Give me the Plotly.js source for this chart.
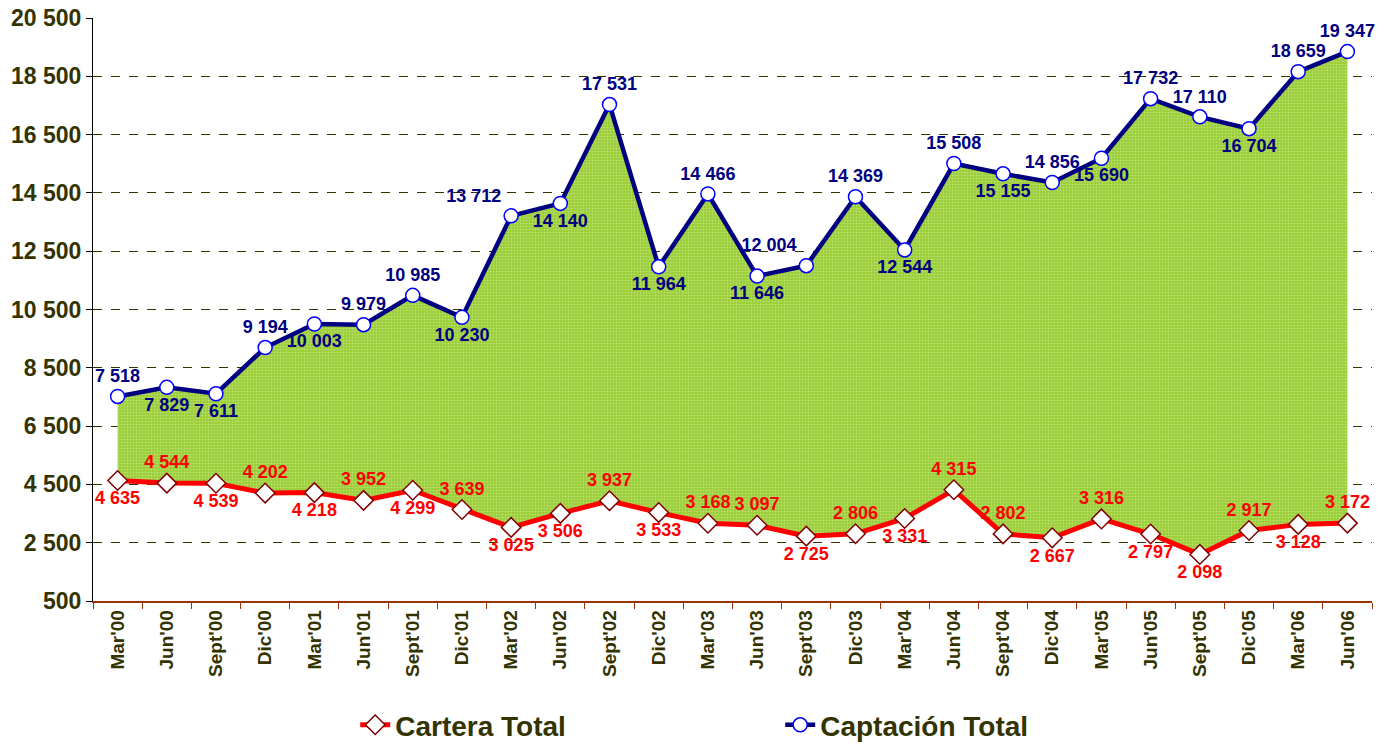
<!DOCTYPE html>
<html>
<head>
<meta charset="utf-8">
<script src="https://cdn.plot.ly/plotly-3.0.1.min.js"></script>
<style>html,body{margin:0;padding:0;background:#fff;}#chart{width:1378px;height:745px;}</style>
</head>
<body>
<div id="chart"></div>
<script>
const periods = ["Mar'00","Jun'00","Sept'00","Dic'00","Mar'01","Jun'01","Sept'01","Dic'01","Mar'02","Jun'02","Sept'02","Dic'02","Mar'03","Jun'03","Sept'03","Dic'03","Mar'04","Jun'04","Sept'04","Dic'04","Mar'05","Jun'05","Sept'05","Dic'05","Mar'06","Jun'06"];
const captacion = [7518,7829,7611,9194,10003,9979,10985,10230,13712,14140,17531,11964,14466,11646,12004,14369,12544,15508,15155,14856,15690,17732,17110,16704,18659,19347];
const cartera = [4635,4544,4539,4202,4218,3952,4299,3639,3025,3506,3937,3533,3168,3097,2725,2806,3331,4315,2802,2667,3316,2797,2098,2917,3128,3172];

const T = 'top center', B = 'bottom center';
const captacionPos = [T,B,B,T,B,T,T,B,'top left',B,T,B,T,B,'top left',T,B,T,B,T,B,T,T,B,T,T];
const carteraPos = [B,T,B,T,B,T,B,T,B,B,T,B,T,T,B,T,B,T,T,B,T,B,B,T,B,T];

const font = 'Arial, "Liberation Sans", sans-serif';
const olive = '#333300';

const traces = [
  {
    x: periods, y: cartera, name: 'Cartera Total', type: 'scatter', mode: 'lines',
    line: {color: 'rgba(0,0,0,0)', width: 0},
    showlegend: false, hoverinfo: 'skip'
  },
  {
    x: periods, y: captacion, name: 'area', type: 'scatter', mode: 'lines',
    fill: 'tonexty', fillcolor: '#99cc33',
    fillpattern: {shape: '.', bgcolor: '#99cc33', fgcolor: '#b8e070', size: 3, solidity: 0.4},
    line: {color: 'rgba(0,0,0,0)', width: 0},
    showlegend: false, hoverinfo: 'skip'
  },
  {
    x: periods, y: cartera, name: 'Cartera Total', type: 'scatter', mode: 'lines+markers+text',
    line: {color: '#ff0000', width: 5},
    marker: {symbol: 'diamond', size: 15, color: '#ffffff', line: {color: '#800000', width: 1.5}},
    texttemplate: '%{y:,}', textposition: carteraPos,
    textfont: {family: font, size: 18, color: '#ff0000', weight: 'bold'},
    cliponaxis: false, hoverinfo: 'skip'
  },
  {
    x: periods, y: captacion, name: 'Captación Total', type: 'scatter', mode: 'lines+markers+text',
    line: {color: '#000080', width: 4.5},
    marker: {symbol: 'circle', size: 14, color: '#ffffff', line: {color: '#0000ff', width: 1.5}},
    texttemplate: '%{y:,}', textposition: captacionPos,
    textfont: {family: font, size: 18, color: '#000080', weight: 'bold'},
    cliponaxis: false, hoverinfo: 'skip'
  }
];

const layout = {
  width: 1378, height: 745,
  margin: {l: 93, r: 6, t: 18, b: 144, autoexpand: false},
  paper_bgcolor: '#ffffff', plot_bgcolor: '#ffffff',
  separators: ', ',
  showlegend: true,
  font: {family: font, color: olive},
  xaxis: {
    type: 'category', range: [-0.5, 25.5], automargin: false,
    showgrid: false, zeroline: false,
    showline: true, linecolor: '#993300', linewidth: 1.5,
    ticks: 'outside', tickson: 'boundaries', ticklen: 6, tickcolor: '#993300',
    tickangle: -90,
    tickfont: {family: font, size: 19, color: olive, weight: 'bold'}
  },
  yaxis: {
    range: [500, 20500], tick0: 500, dtick: 2000, tickformat: ',d', automargin: false,
    showgrid: true, gridcolor: olive, gridwidth: 1, griddash: 'dash',
    zeroline: false,
    showline: true, linecolor: '#000000', linewidth: 1,
    ticks: 'outside', ticklen: 6, tickcolor: '#000000',
    tickfont: {family: font, size: 23, color: olive, weight: 'bold'}
  },
  legend: {
    orientation: 'h', traceorder: 'normal',
    x: 0.205, xanchor: 'left', y: -0.17, yanchor: 'top',
    font: {family: font, size: 28, color: olive, weight: 'bold'},
    entrywidth: 380, entrywidthmode: 'pixels',
    bgcolor: 'rgba(0,0,0,0)'
  }
};

Plotly.newPlot('chart', traces, layout, {displayModeBar: false, staticPlot: true});
</script>
</body>
</html>
